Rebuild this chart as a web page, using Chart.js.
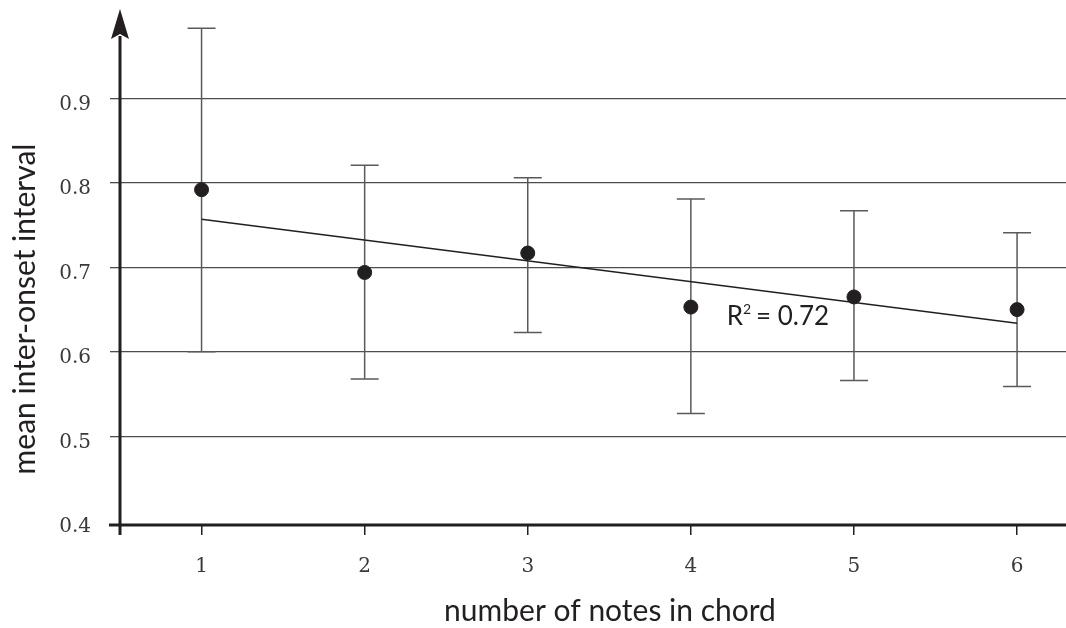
<!DOCTYPE html>
<html>
<head>
<meta charset="utf-8">
<script src="https://cdn.jsdelivr.net/npm/chart.js@4.4.1/dist/chart.umd.min.js"></script>
<style>
  html, body { margin: 0; padding: 0; background: #fff; }
  #wrap { width: 1066px; height: 628px; }
</style>
</head>
<body>
<div id="wrap"><canvas id="grafico" width="1066" height="628"></canvas></div>
<script>
// datos
const notas = [1, 2, 3, 4, 5, 6];
const medias = [0.792, 0.694, 0.717, 0.653, 0.665, 0.650];
const errSup = [0.983, 0.821, 0.806, 0.781, 0.767, 0.741];
const errInf = [0.600, 0.568, 0.623, 0.527, 0.566, 0.559];
const tendX = [1, 6];
const tendY = [0.757, 0.634];
const ticksY = [0.4, 0.5, 0.6, 0.7, 0.8, 0.9];
const ticksX = [1, 2, 3, 4, 5, 6];
const tituloX = 'number of notes in chord';
const tituloY = 'mean inter-onset interval';
const r2 = { x: 4.22, y: 0.632, texto: 'R', sup: '2', resto: '= 0.72' };

const negro = '#231f20';
const gris = '#5a5a5a';
const fuenteSans = 'Lato, "Open Sans", sans-serif';
const fuenteSerif = '"DejaVu Serif", serif';

// barras de error, ejes con flecha y textos
const extrasPlugin = {
  id: 'extras',
  beforeDatasetsDraw(chart) {
    const ctx = chart.ctx;
    const xs = chart.scales.x, ys = chart.scales.y;
    ctx.save();
    ctx.strokeStyle = gris;
    ctx.lineWidth = 1.5;
    notas.forEach((n, i) => {
      const px = xs.getPixelForValue(n);
      const pt = ys.getPixelForValue(errSup[i]);
      const pb = ys.getPixelForValue(errInf[i]);
      ctx.beginPath();
      ctx.moveTo(px, pt); ctx.lineTo(px, pb);
      ctx.moveTo(px - 14, pt); ctx.lineTo(px + 14, pt);
      ctx.moveTo(px - 14, pb); ctx.lineTo(px + 14, pb);
      ctx.stroke();
    });
    ctx.restore();
  },
  afterDraw(chart) {
    const ctx = chart.ctx;
    const a = chart.chartArea;
    const xs = chart.scales.x, ys = chart.scales.y;
    ctx.save();

    // ejes
    ctx.strokeStyle = negro;
    ctx.lineWidth = 3;
    ctx.beginPath();
    ctx.moveTo(a.left - 11, a.bottom);
    ctx.lineTo(a.right, a.bottom);
    ctx.moveTo(a.left, a.bottom + 10);
    ctx.lineTo(a.left, a.top + 22);
    ctx.stroke();

    // flecha
    const tip = a.top - 5;
    ctx.fillStyle = negro;
    ctx.beginPath();
    ctx.moveTo(a.left, tip);
    ctx.lineTo(a.left + 9, tip + 30);
    ctx.lineTo(a.left, tip + 25);
    ctx.lineTo(a.left - 9, tip + 30);
    ctx.closePath();
    ctx.fill();

    // R^2
    ctx.fillStyle = negro;
    ctx.textBaseline = 'alphabetic';
    ctx.textAlign = 'left';
    const rx = xs.getPixelForValue(r2.x);
    const ry = ys.getPixelForValue(r2.y);
    ctx.font = '26px ' + fuenteSans;
    ctx.fillText(r2.texto, rx, ry);
    const wR = ctx.measureText(r2.texto).width;
    ctx.font = '14px ' + fuenteSans;
    ctx.fillText(r2.sup, rx + wR, ry - 11);
    ctx.font = '26px ' + fuenteSans;
    ctx.fillText(r2.resto, rx + wR + 13, ry);

    // titulos
    ctx.font = '30px ' + fuenteSans;
    ctx.textAlign = 'center';
    ctx.fillText(tituloX, 610, 621);
    ctx.translate(35, 309);
    ctx.rotate(-Math.PI / 2);
    ctx.fillText(tituloY, 0, 0);
    ctx.restore();
  }
};

const ctx = document.getElementById('grafico');
new Chart(ctx, {
  type: 'scatter',
  data: {
    datasets: [
      {
        label: 'media',
        data: notas.map((n, i) => ({ x: n, y: medias[i] })),
        backgroundColor: negro,
        borderColor: negro,
        pointRadius: 7,
        pointHoverRadius: 7
      },
      {
        label: 'tendencia',
        data: tendX.map((n, i) => ({ x: n, y: tendY[i] })),
        showLine: true,
        borderColor: negro,
        borderWidth: 1.5,
        pointRadius: 0
      }
    ]
  },
  options: {
    responsive: false,
    animation: false,
    devicePixelRatio: 1,
    layout: { autoPadding: false, padding: { top: 14, right: 0, bottom: 0, left: 0 } },
    plugins: { legend: { display: false }, tooltip: { enabled: false } },
    scales: {
      x: {
        type: 'linear',
        min: 0.5,
        max: 6.3,
        afterBuildTicks: s => { s.ticks = ticksX.map(v => ({ value: v })); },
        afterFit: s => {
          s.height = 103;
          s.paddingLeft = 0; s.paddingRight = 0;
        },
        border: { display: false },
        grid: { drawOnChartArea: false, drawTicks: true, tickLength: 10, color: negro, lineWidth: 1.5 },
        ticks: { font: { family: fuenteSerif, size: 20 }, color: '#3a3a3a', padding: 20, maxRotation: 0 }
      },
      y: {
        type: 'linear',
        min: 0.395,
        max: 1.0,
        afterBuildTicks: s => { s.ticks = ticksY.map(v => ({ value: v })); },
        afterFit: s => {
          s.width = 120;
          s.paddingTop = 0; s.paddingBottom = 0;
        },
        border: { display: false },
        grid: {
          color: c => (c.tick && c.tick.value === 0.4) ? 'rgba(0,0,0,0)' : '#4d4d4d',
          lineWidth: 1.3,
          tickLength: 10
        },
        ticks: {
          font: { family: fuenteSerif, size: 20 },
          color: '#3a3a3a',
          padding: 19,
          labelOffset: 6,
          callback: v => v.toFixed(1)
        }
      }
    }
  },
  plugins: [extrasPlugin]
});
</script>
</body>
</html>
